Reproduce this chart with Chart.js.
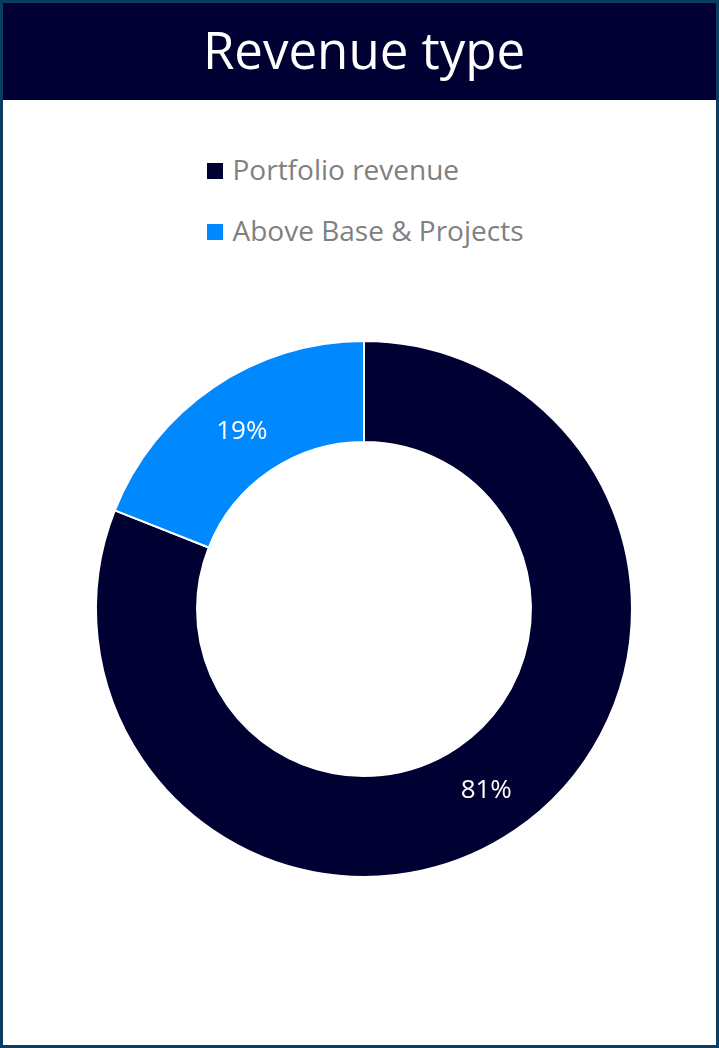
<!DOCTYPE html>
<html>
<head>
<meta charset="utf-8">
<title>Revenue type</title>
<script src="https://cdn.jsdelivr.net/npm/chart.js@4/dist/chart.umd.min.js"></script>
<style>
  html, body { margin: 0; padding: 0; background: #fff; }
  body { width: 719px; height: 1048px; overflow: hidden; font-family: 'Open Sans', sans-serif; }
  .card {
    position: relative;
    box-sizing: border-box;
    width: 719px;
    height: 1048px;
    border: 3px solid #0b3c61;
  }
  .card-header {
    height: 97px;
    background: #000033;
    color: #fff;
    font-size: 51px;
    line-height: 92px;
    text-align: center;
    padding-left: 9px;
  }
  .legend {
    position: absolute;
    top: 135px;
    left: 11px;
    right: 0;
    display: flex;
    justify-content: center;
  }
  .legend ul { list-style: none; margin: 0; padding: 0; }
  .legend li {
    display: flex;
    align-items: center;
    height: 61px;
    font-size: 28px;
    color: #808080;
    white-space: nowrap;
  }
  .legend .swatch {
    display: inline-block;
    width: 16px;
    height: 16px;
    margin: 5px 10px 0 0;
  }
  .chart-box {
    position: absolute;
    left: 61px;
    top: 306px;
    width: 600px;
    height: 600px;
  }
</style>
</head>
<body>
<div class="card">
  <div class="card-header">Revenue type</div>
  <div class="legend" id="legend"></div>
  <div class="chart-box"><canvas id="revenue-canvas"></canvas></div>
</div>
<script>
const revenueLabels = ['Portfolio revenue', 'Above Base & Projects'];
const revenueShares = [81, 19];
const revenueColors = ['#000033', '#0088ff'];

// legend rendered as html so the items stack and stay left aligned
const htmlLegend = {
  id: 'htmlLegend',
  afterUpdate(chart) {
    const container = document.getElementById('legend');
    const list = document.createElement('ul');
    const ds = chart.data.datasets[0];
    chart.data.labels.forEach((label, i) => {
      const li = document.createElement('li');
      const box = document.createElement('span');
      box.className = 'swatch';
      box.style.background = ds.backgroundColor[i];
      li.appendChild(box);
      li.appendChild(document.createTextNode(label));
      list.appendChild(li);
    });
    container.innerHTML = '';
    container.appendChild(list);
  },
};

// percentage written in the middle of each ring segment
const sliceLabels = {
  id: 'sliceLabels',
  afterDatasetsDraw(chart) {
    const { ctx } = chart;
    const meta = chart.getDatasetMeta(0);
    const values = chart.data.datasets[0].data;
    ctx.save();
    ctx.fillStyle = '#ffffff';
    ctx.font = '26px "Open Sans"';
    ctx.textAlign = 'center';
    ctx.textBaseline = 'middle';
    meta.data.forEach((arc, i) => {
      const { x, y } = arc.tooltipPosition();
      ctx.fillText(values[i] + '%', x, y + 2);
    });
    ctx.restore();
  },
};

const chart = new Chart(document.getElementById('revenue-canvas').getContext('2d'), {
  type: 'doughnut',
  data: {
    labels: revenueLabels,
    datasets: [
      {
        data: revenueShares,
        backgroundColor: revenueColors,
        borderColor: '#ffffff',
        borderWidth: 2,
        hoverOffset: 0,
      },
    ],
  },
  options: {
    responsive: true,
    maintainAspectRatio: false,
    animation: false,
    radius: 268,
    cutout: '62.3%',
    plugins: {
      legend: { display: false },
      tooltip: { enabled: false },
    },
  },
  plugins: [htmlLegend, sliceLabels],
});
</script>
</body>
</html>
